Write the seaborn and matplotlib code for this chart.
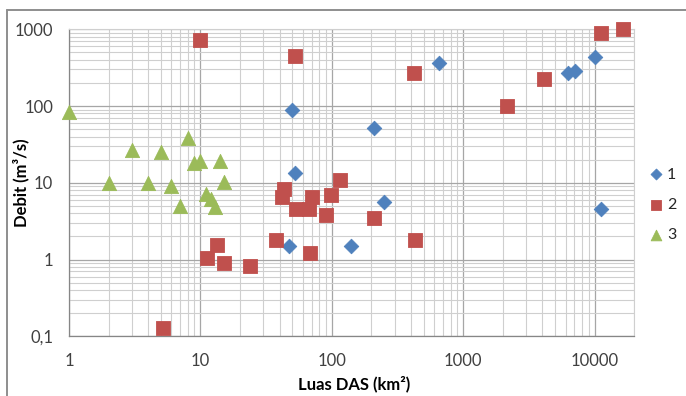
import numpy as np
import pandas as pd
import matplotlib
matplotlib.use("Agg")
import matplotlib.pyplot as plt
import seaborn as sns
from matplotlib.ticker import LogLocator, FixedLocator, FixedFormatter, NullFormatter
from matplotlib.lines import Line2D

# ---- data ----
luas_1 = [50, 52, 47, 140, 210, 250, 650, 6300, 7100, 10000, 11200]
debit_1 = [88, 13.3, 1.5, 1.5, 51, 5.6, 365, 270, 284, 430, 4.5]

luas_2 = [5.2, 10, 11.3, 13.4, 15, 24, 37.5, 42, 43, 52, 53, 67, 68, 70, 91, 98,
          115, 210, 420, 430, 2150, 4100, 11250, 16400]
debit_2 = [0.13, 720, 1.05, 1.53, 0.89, 0.82, 1.82, 6.5, 8.4, 450, 4.6, 4.6, 1.22,
           6.5, 3.85, 6.9, 10.8, 3.5, 273, 1.8, 99, 223, 890, 1000]

luas_3 = [1, 2, 3, 4, 5, 6, 7, 8, 9, 10, 11, 12, 13, 14, 15]
debit_3 = [83, 10, 27, 10, 25, 9, 5, 38, 18, 19.5, 7.1, 6.2, 4.8, 19, 10.2]

series_names = ["1", "2", "3"]
x_ticks = [1, 10, 100, 1000, 10000]
x_tick_labels = ["1", "10", "100", "1000", "10000"]
y_ticks = [0.1, 1, 10, 100, 1000]
y_tick_labels = ["0,1", "1", "10", "100", "1000"]

colors = ["#4F81BD", "#C0504D", "#9BBB59"]
markers = ["D", "s", "^"]
sizes = [55, 88, 105]

sns.set_style("white")
plt.rcParams["font.family"] = ["Lato", "DejaVu Sans"]

fig = plt.figure(figsize=(6.86, 3.96), dpi=100)
fig.patch.set_facecolor("white")
W, H = 686.0, 396.0
ax = fig.add_axes([69 / W, 1 - 336.3 / H, (634.3 - 69) / W, (336.3 - 29.3) / H])
ax.set_xscale("log")
ax.set_yscale("log")

frames = []
for name, xs, ys in zip(series_names, [luas_1, luas_2, luas_3], [debit_1, debit_2, debit_3]):
    frames.append(pd.DataFrame({"luas": xs, "debit": ys, "kelas": name}))
df = pd.concat(frames, ignore_index=True)

for i, name in enumerate(series_names):
    sub = df[df["kelas"] == name]
    sns.scatterplot(data=sub, x="luas", y="debit", ax=ax, marker=markers[i],
                    color=colors[i], s=sizes[i], edgecolor=colors[i], linewidth=0.6,
                    label=name, legend=False, zorder=3 + i, clip_on=False)

ax.set_xlim(1, 20000)
ax.set_ylim(0.1, 1000)

ax.xaxis.set_major_locator(FixedLocator(x_ticks))
ax.xaxis.set_major_formatter(FixedFormatter(x_tick_labels))
ax.xaxis.set_minor_locator(LogLocator(base=10, subs=np.arange(2, 10), numticks=20))
ax.xaxis.set_minor_formatter(NullFormatter())
ax.yaxis.set_major_locator(FixedLocator(y_ticks))
ax.yaxis.set_major_formatter(FixedFormatter(y_tick_labels))
ax.yaxis.set_minor_locator(LogLocator(base=10, subs=np.arange(2, 10), numticks=20))
ax.yaxis.set_minor_formatter(NullFormatter())

ax.grid(True, which="major", color="#A6A6A6", linewidth=0.9, zorder=0)
ax.grid(True, which="minor", color="#CFCFCF", linewidth=0.8, zorder=0)
ax.set_axisbelow(True)

for side in ["top", "right"]:
    ax.spines[side].set_color("#CFCFCF")
    ax.spines[side].set_linewidth(0.8)
for side in ["left", "bottom"]:
    ax.spines[side].set_color("#868686")
    ax.spines[side].set_linewidth(0.9)

ax.tick_params(axis="x", which="major", length=0, pad=12, labelsize=12, labelcolor="#404040")
ax.tick_params(axis="y", which="major", length=4.3, width=0.9, color="#868686", direction="out",
               pad=7, labelsize=12, labelcolor="#404040")
ax.tick_params(which="minor", length=0)

ax.set_xlabel("Luas DAS (km²)", fontsize=12, fontweight="bold", color="black", va="center")
ax.set_ylabel("Debit (m³/s)", fontsize=12, fontweight="bold", color="black", va="center")
ax.xaxis.set_label_coords((354 - 69) / 565.3, (336.3 - 384) / 307.0)
ax.yaxis.set_label_coords((21 - 69) / 565.3, 0.5)

handles, labels = ax.get_legend_handles_labels()
leg = fig.legend(handles, labels, loc="center left", bbox_to_anchor=(650 / W, 1 - 204.7 / H),
                 frameon=False, borderpad=0, borderaxespad=0, handlelength=0.8,
                 handletextpad=0.25, labelspacing=1.0, fontsize=11.5, markerscale=0.75,
                 scatterpoints=1)
for t in leg.get_texts():
    t.set_color("#262626")

# chart area border (left and top visible)
fig.add_artist(Line2D([7 / W, 7 / W], [0, 1 - 9.5 / H], transform=fig.transFigure,
                      color="#8E8E8E", linewidth=1.4))
fig.add_artist(Line2D([7 / W, 1], [1 - 9.5 / H, 1 - 9.5 / H], transform=fig.transFigure,
                      color="#8E8E8E", linewidth=1.4))

fig.savefig("out.png", dpi=100, facecolor="white")
